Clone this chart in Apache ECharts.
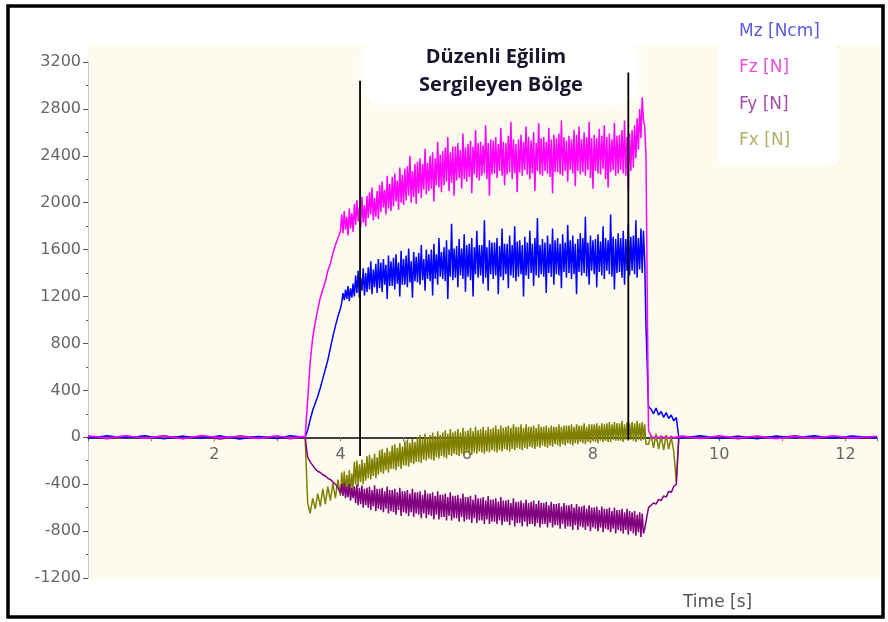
<!DOCTYPE html>
<html>
<head>
<meta charset="utf-8">
<script src="https://cdn.jsdelivr.net/npm/echarts@6/dist/echarts.min.js"></script>
<style>
html,body{margin:0;padding:0;background:#fff;}
#chart{width:888px;height:622px;}
</style>
</head>
<body>
<div id="chart"></div>
<script>
// ---- data ----
const seriesNames = ['Mz [Ncm]', 'Fz [N]', 'Fy [N]', 'Fx [N]'];
const yTicks = [-1200, -800, -400, 0, 400, 800, 1200, 1600, 2000, 2400, 2800, 3200];
const xTicks = [2, 4, 6, 8, 10, 12];

// quiet part before loading
const preTime = [0, 0.3, 0.6, 0.9, 1.2, 1.5, 1.8, 2.1, 2.4, 2.7, 3.0, 3.2, 3.4];
const fzPre = [12,-6,14,-8,10,-12,16,-4,8,-10,12,-6,6];
const mzPre = [-10,12,-6,14,-12,8,-8,12,-14,6,-10,14,2];
const fyPre = [6,-12,10,-8,14,-10,6,-14,12,-6,8,-12,0];
const fxPre = [-4,4,-8,6,-4,8,-6,4,-10,6,-4,6,0];

// loading ramp: every 0.04 s from 3.44 s to 4.00 s
const riseStart = 3.44, riseStep = 0.04;
const fzRise = [0,320,640,850,980,1090,1190,1260,1330,1420,1480,1570,1640,1700,1760];
const mzRise = [0,60,150,230,290,350,420,500,580,660,760,860,950,1030,1100];
const fyRise = [0,-170,-210,-240,-270,-290,-300,-320,-330,-350,-360,-380,-400,-430,-480];
const fxRise = [0,-560,-650,-520,-610,-480,-590,-440,-570,-420,-540,-390,-520,-360,-500];

// noisy plateau: every 0.02 s from 4.02 s to 8.84 s (rows of 0.2 s)
const noisyStart = 4.02, noisyStep = 0.02;
const fzNoisy = [
  1900,1740,1930,1770,1880,1720,1950,1780,1910,1750,
  1990,1810,2020,1840,1960,1790,2050,1830,1980,1800,
  2060,1870,2090,1900,2130,1850,2040,1880,2100,1860,
  2150,1920,2180,1960,2110,1900,2230,1950,2160,1930,
  2220,1970,2250,2010,2190,1940,2300,2000,2240,1980,
  2290,2020,2310,2060,2400,2000,2270,2050,2330,1990,
  2350,2080,2380,2040,2330,2110,2460,2070,2340,2100,
  2400,2120,2430,2010,2380,2150,2520,2130,2410,2090,
  2440,2150,2470,2180,2560,2100,2430,2170,2480,2060,
  2480,2190,2510,2210,2450,2120,2590,2200,2470,2180,
  2500,2220,2530,2080,2480,2240,2620,2210,2510,2190,
  2520,2230,2490,2250,2660,2200,2510,2060,2540,2240,
  2530,2250,2560,2210,2500,2270,2640,2230,2520,2150,
  2510,2240,2570,2260,2690,2200,2540,2250,2500,2090,
  2540,2260,2580,2230,2520,2280,2650,2240,2560,2200,
  2530,2250,2600,2100,2510,2270,2680,2240,2550,2230,
  2560,2270,2520,2250,2640,2220,2540,2080,2580,2260,
  2550,2260,2590,2240,2700,2230,2560,2270,2530,2180,
  2570,2280,2540,2250,2620,2140,2580,2270,2650,2240,
  2540,2260,2600,2230,2560,2280,2690,2210,2550,2120,
  2580,2270,2550,2250,2630,2240,2570,2290,2660,2200,
  2560,2130,2590,2260,2540,2280,2680,2230,2570,2250,
  2580,2280,2620,2250,2700,2230,2560,2100,2590,2270,
  2620,2300,2660,2380,2720,2450,2800,2550,2900,2700,
  2650,2400
];
const mzNoisy = [
  1150,1230,1170,1260,1180,1290,1160,1270,1190,1310,
  1200,1380,1230,1420,1190,1360,1250,1440,1210,1400,
  1240,1450,1260,1500,1220,1430,1280,1480,1230,1520,
  1270,1490,1240,1520,1300,1470,1180,1550,1290,1500,
  1290,1530,1260,1560,1310,1490,1200,1590,1300,1520,
  1300,1550,1280,1610,1320,1500,1190,1580,1330,1540,
  1320,1570,1300,1640,1340,1520,1250,1600,1350,1560,
  1330,1600,1210,1650,1350,1560,1300,1700,1370,1580,
  1350,1620,1330,1680,1180,1600,1370,1820,1340,1610,
  1360,1630,1280,1690,1380,1610,1350,1730,1240,1640,
  1370,1650,1340,1700,1200,1620,1390,1760,1360,1640,
  1380,1640,1310,1850,1360,1620,1250,1680,1390,1660,
  1350,1660,1380,1700,1220,1630,1370,1780,1340,1650,
  1390,1650,1270,1720,1380,1640,1360,1800,1330,1670,
  1370,1680,1390,1640,1200,1710,1380,1660,1350,1760,
  1400,1650,1290,1700,1380,1870,1360,1640,1390,1690,
  1370,1660,1230,1720,1400,1650,1370,1780,1300,1680,
  1390,1700,1380,1650,1270,1730,1410,1660,1360,1810,
  1400,1680,1350,1720,1390,1650,1220,1690,1410,1740,
  1380,1700,1400,1880,1370,1660,1300,1720,1420,1680,
  1390,1690,1280,1730,1410,1670,1380,1800,1350,1700,
  1420,1680,1390,1900,1370,1710,1260,1690,1400,1740,
  1410,1700,1360,1760,1300,1690,1420,1820,1380,1710,
  1420,1720,1390,1850,1360,1700,1430,1780,1400,1760,
  1500,950
];
const fyNoisy = [
  -400,-500,-390,-520,-420,-510,-400,-540,-430,-520,
  -420,-560,-400,-580,-430,-570,-410,-600,-440,-580,
  -430,-600,-420,-620,-450,-590,-410,-630,-440,-610,
  -440,-620,-430,-640,-460,-610,-420,-650,-450,-630,
  -450,-640,-440,-660,-470,-620,-430,-670,-460,-640,
  -460,-650,-450,-670,-480,-640,-440,-680,-470,-650,
  -470,-660,-460,-690,-490,-650,-450,-690,-480,-660,
  -480,-670,-470,-700,-500,-660,-460,-700,-490,-680,
  -490,-680,-480,-710,-510,-670,-470,-710,-500,-690,
  -500,-690,-490,-720,-520,-680,-480,-720,-510,-700,
  -510,-700,-500,-730,-530,-690,-490,-730,-520,-710,
  -520,-710,-510,-740,-540,-700,-500,-740,-530,-720,
  -530,-720,-520,-740,-550,-710,-510,-750,-540,-720,
  -540,-720,-530,-750,-560,-710,-520,-760,-550,-730,
  -550,-730,-540,-760,-560,-720,-530,-760,-560,-740,
  -550,-740,-540,-760,-570,-730,-540,-770,-560,-740,
  -560,-740,-550,-770,-580,-730,-550,-770,-570,-750,
  -570,-750,-560,-780,-590,-740,-560,-780,-580,-760,
  -580,-760,-570,-790,-600,-750,-570,-790,-590,-760,
  -590,-770,-580,-790,-610,-760,-580,-800,-600,-770,
  -600,-780,-590,-800,-620,-770,-590,-810,-610,-780,
  -610,-790,-600,-810,-630,-780,-600,-820,-620,-790,
  -620,-800,-610,-820,-640,-790,-610,-830,-630,-800,
  -640,-820,-630,-840,-660,-810,-640,-850,-650,-820,
  -780,-720
];
const fxNoisy = [
  -300,-470,-290,-480,-320,-450,-280,-470,-310,-440,
  -210,-400,-200,-420,-230,-380,-190,-400,-220,-370,
  -160,-350,-150,-360,-180,-330,-140,-350,-170,-320,
  -110,-300,-100,-310,-130,-280,-90,-300,-120,-270,
  -70,-270,-60,-280,-90,-250,-50,-270,-80,-240,
  -30,-240,-20,-250,-50,-220,-10,-230,-40,-210,
  0,-210,20,-220,-10,-190,30,-200,0,-180,
  20,-190,40,-200,10,-170,50,-180,20,-160,
  40,-170,60,-180,30,-150,70,-160,40,-140,
  50,-150,70,-160,40,-140,80,-150,50,-130,
  60,-140,80,-150,50,-130,90,-140,60,-120,
  70,-130,90,-140,60,-120,90,-130,70,-110,
  80,-120,100,-130,70,-110,100,-120,80,-100,
  90,-110,100,-120,80,-100,110,-110,90,-90,
  90,-100,110,-110,80,-90,110,-100,90,-80,
  90,-90,100,-100,80,-80,110,-90,90,-70,
  90,-80,100,-90,80,-70,100,-80,90,-60,
  90,-70,110,-80,90,-60,100,-70,100,-50,
  100,-60,110,-70,90,-50,110,-60,100,-40,
  100,-50,120,-60,90,-40,110,-50,110,-30,
  110,-40,120,-50,100,-30,120,-40,110,-30,
  120,-40,130,-40,110,-20,130,-30,120,-30,
  120,-30,140,-40,110,-20,130,-30,120,-20,
  130,-30,120,-40,140,-20,120,-30,130,-20,
  110,-60
];

// unloading tail: every 0.04 s from 8.88 s to 9.36 s
const tailStart = 8.88, tailStep = 0.04;
const fzTail = [60,10,-5,8,-6,12,-4,6,-8,10,-5,4,0];
const mzTail = [260,240,200,250,190,220,170,210,160,190,140,170,0];
const fyTail = [-600,-580,-560,-570,-530,-540,-500,-510,-460,-470,-420,-400,0];
const fxTail = [-60,20,-90,30,-100,10,-110,20,-100,0,-120,-380,0];

// quiet part after unloading
const postTime = [9.4, 9.7, 10.0, 10.3, 10.6, 10.9, 11.2, 11.5, 11.8, 12.1, 12.5];
const fzPost = [8,-10,12,-6,10,-12,6,-8,12,-6,8];
const mzPost = [-8,12,-10,8,-12,10,-6,12,-8,10,-6];
const fyPost = [10,-8,6,-12,8,-6,12,-10,6,-8,4];
const fxPost = [-6,6,-4,8,-6,4,-8,6,-4,6,-4];

// region markers ("Düzenli Eğilim Sergileyen Bölge")
const regionX = [4.31, 8.56];
const regionTop = [3040, 3110];
const regionBottom = [-160, -20];

// ---- build ----
function build(pre, rise, noisy, tail, post) {
  const out = [];
  preTime.forEach((t, i) => out.push([t, pre[i]]));
  rise.forEach((v, i) => out.push([+(riseStart + i * riseStep).toFixed(2), v]));
  noisy.forEach((v, i) => out.push([+(noisyStart + i * noisyStep).toFixed(2), v]));
  tail.forEach((v, i) => out.push([+(tailStart + i * tailStep).toFixed(2), v]));
  postTime.forEach((t, i) => out.push([t, post[i]]));
  return out;
}

const lineColors = { 'Mz [Ncm]': '#0000ff', 'Fz [N]': '#ff00ff', 'Fy [N]': '#800080', 'Fx [N]': '#808000' };
const textColors = { 'Mz [Ncm]': '#5a5ae4', 'Fz [N]': '#f04ee0', 'Fy [N]': '#a24ea8', 'Fx [N]': '#b0b06a' };
const dataMap = {
  'Mz [Ncm]': build(mzPre, mzRise, mzNoisy, mzTail, mzPost),
  'Fz [N]': build(fzPre, fzRise, fzNoisy, fzTail, fzPost),
  'Fy [N]': build(fyPre, fyRise, fyNoisy, fyTail, fyPost),
  'Fx [N]': build(fxPre, fxRise, fxNoisy, fxTail, fxPost)
};

const drawOrder = ['Fx [N]', 'Fy [N]', 'Mz [Ncm]', 'Fz [N]'];
const series = drawOrder.map(n => ({
  name: n, type: 'line', data: dataMap[n], showSymbol: false, symbol: 'none',
  lineStyle: { color: lineColors[n], width: 1.5 }, itemStyle: { color: lineColors[n] },
  sampling: null, animation: false, z: 2
}));
regionX.forEach((x, i) => {
  series.push({
    name: 'region' + i, type: 'line', data: [[x, regionTop[i]], [x, regionBottom[i]]],
    showSymbol: false, symbol: 'none', silent: true,
    lineStyle: { color: '#000', width: 1.8 }, animation: false, z: 3
  });
});

// grid geometry; x axis is drawn on the y = 0 line
const gridTop = 62, gridBottom = 44, chartH = 622;
const yMin = yTicks[0], yMax = yTicks[yTicks.length - 1];
const plotH = chartH - gridTop - gridBottom;
const xAxisOffset = -plotH * (0 - yMin) / (yMax - yMin);

const chart = echarts.init(document.getElementById('chart'), null, { renderer: 'canvas' });
chart.setOption({
  animation: false,
  backgroundColor: '#ffffff',
  grid: { left: 88, right: 11, top: gridTop, bottom: gridBottom, containLabel: false },
  legend: {
    data: seriesNames.map(n => ({ name: n, textStyle: { color: textColors[n] } })),
    orient: 'vertical', left: 729, top: 18,
    itemWidth: 0, itemHeight: 17, itemGap: 19.5,
    icon: 'rect', itemStyle: { color: 'transparent', borderWidth: 0 },
    lineStyle: { width: 0 },
    textStyle: { fontFamily: 'DejaVu Sans', fontSize: 17 },
    selectedMode: false
  },
  xAxis: {
    type: 'value', min: 0, max: 12.5, interval: 2, position: 'bottom', offset: xAxisOffset,
    axisLine: { onZero: false, lineStyle: { color: '#000', width: 1.6 } },
    axisTick: { show: true, length: 4, lineStyle: { color: '#777' } },
    minorTick: { show: true, splitNumber: 2, length: 4, lineStyle: { color: '#777' } },
    splitLine: { show: false },
    axisLabel: {
      color: '#666', fontFamily: 'DejaVu Sans', fontSize: 16, margin: 10,
      formatter: v => (xTicks.indexOf(v) >= 0 ? String(v) : '')
    }
  },
  yAxis: {
    type: 'value', min: yMin, max: yMax, interval: 400,
    axisLine: { show: true, lineStyle: { color: '#c8c8c8', width: 1 } },
    axisTick: { show: true, length: 5, lineStyle: { color: '#555' } },
    minorTick: { show: true, splitNumber: 2, length: 2, lineStyle: { color: '#555' } },
    splitLine: { show: false },
    axisLabel: { color: '#666', fontFamily: 'DejaVu Sans', fontSize: 16, margin: 7,
                 formatter: v => String(v) }
  },
  graphic: [
    { type: 'rect', z: -10, silent: true, shape: { x: 88, y: 45, width: 792, height: 535 }, style: { fill: '#fdfbee' } },
    { type: 'rect', z: -5, silent: true, shape: { x: 718, y: 12, width: 118, height: 152 }, style: { fill: '#ffffff' } },
    { type: 'rect', z: -5, silent: true, shape: { x: 364, y: 36, width: 274, height: 68, r: 22 },
      style: { fill: '#ffffff', shadowBlur: 14, shadowColor: '#ffffff' } },
    { type: 'text', z: 100, silent: true,
      style: { text: 'Düzenli Eğilim', x: 496, y: 57, textAlign: 'center', textVerticalAlign: 'middle',
               font: 'bold 20px "Open Sans"', fill: '#16162c' } },
    { type: 'text', z: 100, silent: true,
      style: { text: 'Sergileyen Bölge', x: 501, y: 85, textAlign: 'center', textVerticalAlign: 'middle',
               font: 'bold 20px "Open Sans"', fill: '#16162c' } },
    { type: 'text', z: 100, silent: true,
      style: { text: 'Time [s]', x: 683, y: 603, textAlign: 'left', textVerticalAlign: 'middle',
               font: '17px DejaVu Sans', fill: '#555' } },
    { type: 'rect', z: 100, silent: true, shape: { x: 8, y: 6, width: 875, height: 611 },
      style: { fill: 'none', stroke: '#000', lineWidth: 3.5 } }
  ],
  series: series
});
</script>
</body>
</html>
